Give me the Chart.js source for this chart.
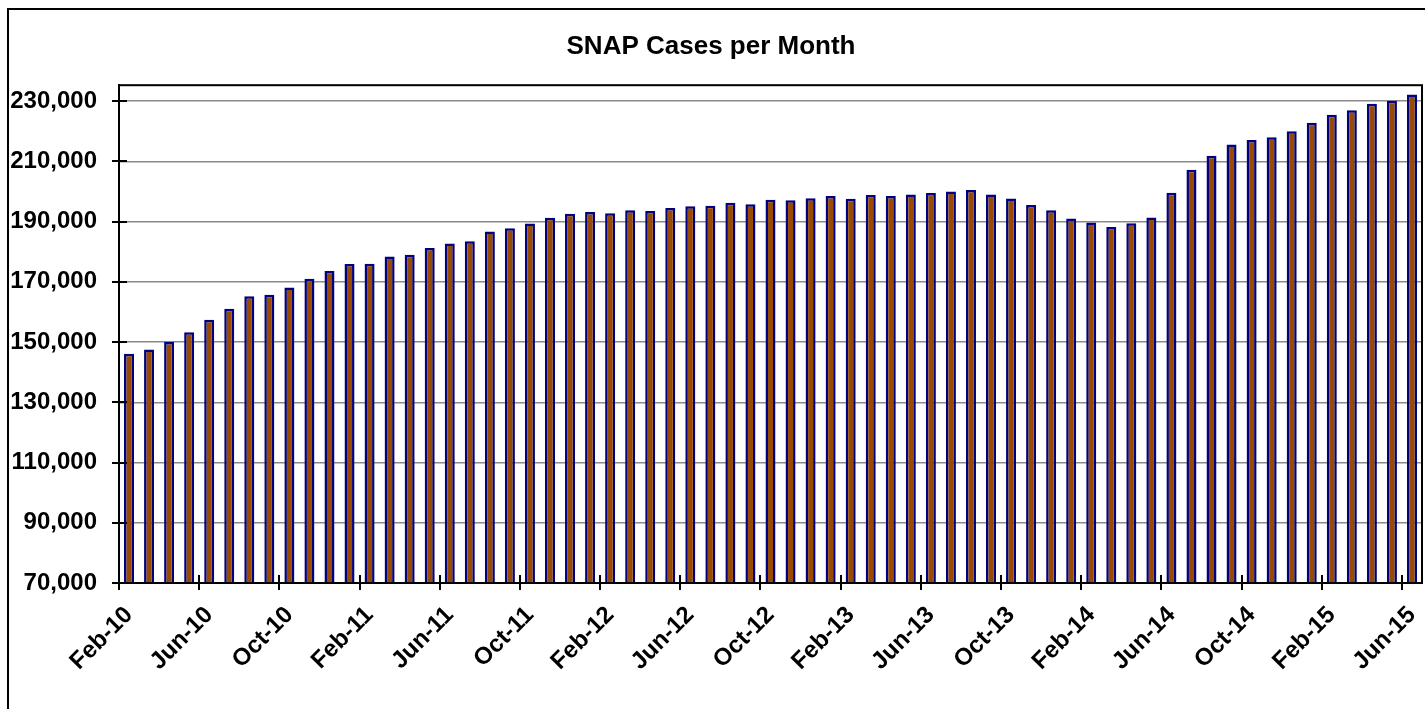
<!DOCTYPE html>
<html>
<head>
<meta charset="utf-8">
<script src="https://cdn.jsdelivr.net/npm/chart.js@4/dist/chart.umd.min.js"></script>
<style>
  html, body { margin: 0; padding: 0; background: #fff; overflow: hidden; }
  #frame { position: absolute; left: 7px; top: 8px; width: 1440px; height: 720px;
           border-left: 2px solid #000; border-top: 2px solid #000; }
  #c { position: absolute; left: 0; top: 0; }
</style>
</head>
<body>
<div id="frame"></div>
<canvas id="c" width="1425" height="709"></canvas>
<script>
const chartTitle = 'SNAP Cases per Month';

const months = [
  'Feb-10','Mar-10','Apr-10','May-10','Jun-10','Jul-10','Aug-10','Sep-10','Oct-10','Nov-10','Dec-10',
  'Jan-11','Feb-11','Mar-11','Apr-11','May-11','Jun-11','Jul-11','Aug-11','Sep-11','Oct-11','Nov-11','Dec-11',
  'Jan-12','Feb-12','Mar-12','Apr-12','May-12','Jun-12','Jul-12','Aug-12','Sep-12','Oct-12','Nov-12','Dec-12',
  'Jan-13','Feb-13','Mar-13','Apr-13','May-13','Jun-13','Jul-13','Aug-13','Sep-13','Oct-13','Nov-13','Dec-13',
  'Jan-14','Feb-14','Mar-14','Apr-14','May-14','Jun-14','Jul-14','Aug-14','Sep-14','Oct-14','Nov-14','Dec-14',
  'Jan-15','Feb-15','Mar-15','Apr-15','May-15','Jun-15'
];

const snapCases = [
  146150, 147500, 150000, 153300, 157400, 161100, 165200, 165700, 168100, 171000, 173600,
  175900, 176000, 178400, 179000, 181200, 182700, 183500, 186700, 187800, 189400, 191300,
  192600, 193200, 192800, 193800, 193500, 194500, 195100, 195300, 196300, 195800, 197300,
  197100, 197800, 198500, 197600, 198800, 198500, 199000, 199500, 200000, 200500, 199000,
  197700, 195500, 193800, 191000, 189700, 188200, 189500, 191400, 199600, 207200, 211900,
  215600, 217100, 218000, 220000, 222800, 225500, 227000, 229100, 230100, 232200
];

const yTickValues = [70000, 90000, 110000, 130000, 150000, 170000, 190000, 210000, 230000];
const yMin = 70000;
const yMax = 235300;
const labelEvery = 4;

const FONT = "'Liberation Sans', Arial, sans-serif";
Chart.defaults.font.family = FONT;
Chart.defaults.color = '#000';

const frameTicks = {
  id: 'frameTicks',
  afterDraw(chart) {
    const { ctx, chartArea: ca, scales: { x, y } } = chart;
    ctx.save();
    ctx.strokeStyle = '#000';
    ctx.lineWidth = 2;
    ctx.strokeRect(ca.left, ca.top, ca.right - ca.left, ca.bottom - ca.top);
    ctx.beginPath();
    y.ticks.forEach(t => {
      const py = Math.round(y.getPixelForValue(t.value));
      ctx.moveTo(ca.left - 7, py);
      ctx.lineTo(ca.left + 8, py);
    });
    for (let i = 0; i < months.length; i += labelEvery) {
      const px = Math.round(x.getPixelForValue(i - 0.5));
      ctx.moveTo(px, ca.bottom - 8);
      ctx.lineTo(px, ca.bottom + 7);
    }
    ctx.stroke();
    ctx.restore();
  }
};

new Chart(document.getElementById('c'), {
  type: 'bar',
  data: {
    labels: months,
    datasets: [{
      label: 'SNAP Cases',
      data: snapCases,
      backgroundColor: '#984A02',
      borderColor: '#000080',
      borderWidth: 2.5,
      borderSkipped: false,
      barPercentage: 0.5,
      categoryPercentage: 1.0
    }]
  },
  options: {
    responsive: false,
    animation: false,
    devicePixelRatio: 1,
    layout: { padding: { left: 0, right: 3, top: 0, bottom: 0 } },
    plugins: {
      legend: { display: false },
      tooltip: { enabled: false },
      title: {
        display: true,
        text: chartTitle,
        color: '#000',
        font: { family: FONT, size: 26, weight: 'bold' },
        padding: { top: 31, bottom: 23 }
      }
    },
    scales: {
      x: {
        offset: true,
        grid: { display: false, drawTicks: false, offset: true },
        border: { display: true, color: '#000', width: 2 },
        ticks: {
          autoSkip: false,
          maxRotation: 45,
          minRotation: 45,
          padding: 18,
          font: { family: FONT, size: 24, weight: 'bold' },
          color: '#000',
          callback: (v, i) => (i % labelEvery === 0 ? months[i] : '')
        },
        afterFit(scale) {
          scale.height = 126;
          scale.paddingLeft = 0;
          scale.paddingRight = 0;
        }
      },
      y: {
        min: yMin,
        max: yMax,
        grid: { color: '#8a8a8a', lineWidth: 1.5, drawTicks: false },
        border: { display: true, color: '#000', width: 2 },
        ticks: {
          padding: 22,
          font: { family: FONT, size: 24, weight: 'bold' },
          color: '#000',
          callback: v => v.toLocaleString('en-US')
        },
        afterBuildTicks(scale) {
          scale.ticks = yTickValues.map(v => ({ value: v }));
        },
        afterFit(scale) {
          scale.width = 119;
          scale.paddingTop = 0;
          scale.paddingBottom = 0;
        }
      }
    }
  },
  plugins: [frameTicks]
});
</script>
</body>
</html>
